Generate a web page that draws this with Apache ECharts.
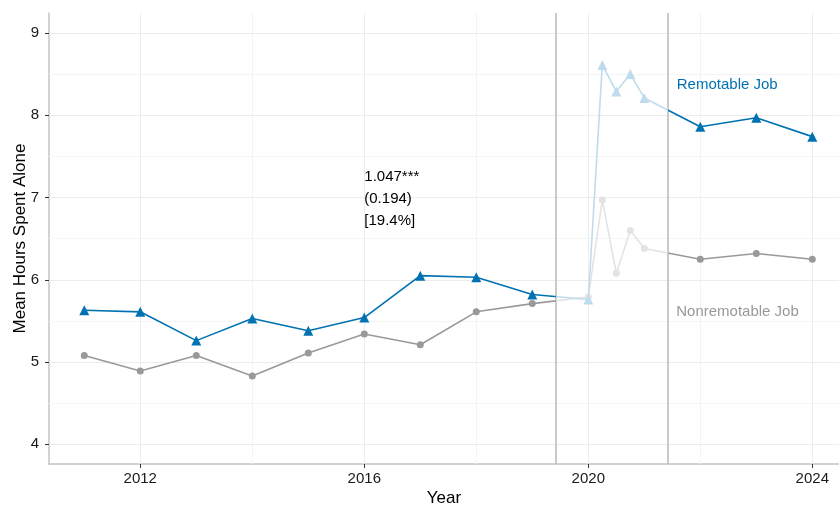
<!DOCTYPE html>
<html>
<head>
<meta charset="utf-8">
<script src="https://cdn.jsdelivr.net/npm/echarts@6/dist/echarts.min.js"></script>
<style>
  html, body { margin: 0; padding: 0; background: #ffffff; }
  #chart { width: 839px; height: 506px; }
</style>
</head>
<body>
<div id="chart"></div>
<script>
// Survey years (quarterly observations during 2020)
const years = [2011, 2012, 2013, 2014, 2015, 2016, 2017, 2018, 2019,
               2020, 2020.25, 2020.5, 2020.75, 2021, 2022, 2023, 2024];
// Mean hours spent alone per day
const remotable = [5.63, 5.61, 5.26, 5.53, 5.38, 5.54, 6.05, 6.03, 5.82,
                   5.76, 8.61, 8.29, 8.50, 8.21, 7.86, 7.97, 7.74];
const nonremotable = [5.08, 4.89, 5.08, 4.83, 5.11, 5.34, 5.21, 5.61, 5.71,
                      5.79, 6.97, 6.08, 6.60, 6.38, 6.25, 6.32, 6.25];

const xTickLabels = [2012, 2016, 2020, 2024];
const xMinorGrid = [2014, 2018, 2022];
const yTickLabels = [4, 5, 6, 7, 8, 9];
const yMinorGrid = [4.5, 5.5, 6.5, 7.5, 8.5];
// Start and end of the pandemic window
const pandemicWindow = [2019.42, 2021.42];

const annotationLines = ['1.047***', '(0.194)', '[19.4%]'];
const seriesNames = ['Remotable Job', 'Nonremotable Job'];

const BLUE = '#0072B2', BLUE_FADED = '#bfdcee';
const GREY = '#999999', GREY_FADED = '#e3e3e3';
const FONT = '"Liberation Sans", Arial, Helvetica, sans-serif';

const pair = (xs, ys) => xs.map((x, i) => [x, ys[i]]);

function gridLines(values, axis, color) {
  return values.map(v => ({ [axis]: v, lineStyle: { color: color, width: 1, type: 'solid' } }));
}

const chart = echarts.init(document.getElementById('chart'), null, { renderer: 'canvas' });

const option = {
  animation: false,
  backgroundColor: '#ffffff',
  grid: { left: 49, right: 0, top: 13, bottom: 42, containLabel: false, outerBoundsMode: 'none' },
  xAxis: {
    type: 'value',
    min: 2010.37,
    max: 2024.477,
    name: 'Year',
    nameLocation: 'middle',
    nameGap: 26,
    nameMoveOverlap: false,
    nameTextStyle: { fontFamily: FONT, fontSize: 17, color: '#000000' },
    axisLine: { show: true, lineStyle: { color: '#c4c4c4', width: 1.5 } },
    axisTick: { show: true, customValues: xTickLabels, length: 4, lineStyle: { color: '#333333', width: 1 } },
    axisLabel: { customValues: xTickLabels, margin: 7, fontFamily: FONT, fontSize: 15, color: '#1a1a1a',
                 formatter: v => String(v) },
    splitLine: { show: false }
  },
  yAxis: {
    type: 'value',
    min: 3.76,
    max: 9.243,
    name: 'Mean Hours Spent Alone',
    nameLocation: 'middle',
    nameGap: 20,
    nameMoveOverlap: false,
    nameTextStyle: { fontFamily: FONT, fontSize: 17, color: '#000000' },
    axisLine: { show: true, lineStyle: { color: '#c4c4c4', width: 1.5 } },
    axisTick: { show: true, customValues: yTickLabels, length: 4, lineStyle: { color: '#333333', width: 1 } },
    axisLabel: { customValues: yTickLabels, margin: 10, fontFamily: FONT, fontSize: 15, color: '#1a1a1a',
                 formatter: v => String(v) },
    splitLine: { show: false }
  },
  visualMap: [
    {
      type: 'piecewise', show: false, seriesIndex: 2, dimension: 0,
      pieces: [
        { lt: pandemicWindow[0], color: BLUE },
        { gte: pandemicWindow[0], lte: pandemicWindow[1], color: BLUE_FADED },
        { gt: pandemicWindow[1], color: BLUE }
      ]
    },
    {
      type: 'piecewise', show: false, seriesIndex: 1, dimension: 0,
      pieces: [
        { lt: pandemicWindow[0], color: GREY },
        { gte: pandemicWindow[0], lte: pandemicWindow[1], color: GREY_FADED },
        { gt: pandemicWindow[1], color: GREY }
      ]
    }
  ],
  series: [
    {
      // panel grid and pandemic window boundaries
      type: 'line',
      data: [],
      silent: true,
      z: 1,
      markLine: {
        z: 1,
        silent: true,
        symbol: ['none', 'none'],
        label: { show: false },
        emphasis: { disabled: true },
        animation: false,
        data: [
          ...gridLines(yMinorGrid, 'yAxis', '#f5f5f5'),
          ...gridLines(xMinorGrid, 'xAxis', '#f3f3f3'),
          ...gridLines(yTickLabels, 'yAxis', '#ececec'),
          ...gridLines(xTickLabels, 'xAxis', '#ececec'),
          ...pandemicWindow.map(v => ({ xAxis: v, lineStyle: { color: '#bdbdbd', width: 1.6, type: 'solid' } }))
        ]
      }
    },
    {
      name: seriesNames[1],
      type: 'line',
      z: 3,
      data: pair(years, nonremotable),
      symbol: 'circle',
      symbolSize: 7,
      showAllSymbol: true,
      lineStyle: { width: 1.6 },
      emphasis: { disabled: true }
    },
    {
      name: seriesNames[0],
      type: 'line',
      z: 4,
      data: pair(years, remotable),
      symbol: 'triangle',
      symbolSize: 10,
      showAllSymbol: true,
      lineStyle: { width: 1.6 },
      emphasis: { disabled: true }
    }
  ]
};

chart.setOption(option);

// Text annotations placed in data coordinates
const labelSpecs = [
  { text: seriesNames[0], at: [2021.58, 8.37], color: BLUE, lineHeight: 18 },
  { text: seriesNames[1], at: [2021.57, 5.61], color: GREY, lineHeight: 18 },
  { text: annotationLines.join('\n'), at: [2016.0, 6.98], color: '#000000', lineHeight: 22 }
];

chart.setOption({
  graphic: labelSpecs.map(s => {
    const p = chart.convertToPixel({ xAxisIndex: 0, yAxisIndex: 0 }, s.at);
    return {
      type: 'text',
      x: p[0],
      y: p[1],
      silent: true,
      z: 10,
      style: {
        text: s.text,
        fill: s.color,
        font: '15px ' + FONT,
        lineHeight: s.lineHeight,
        textAlign: 'left',
        textVerticalAlign: 'middle'
      }
    };
  })
});
</script>
</body>
</html>
